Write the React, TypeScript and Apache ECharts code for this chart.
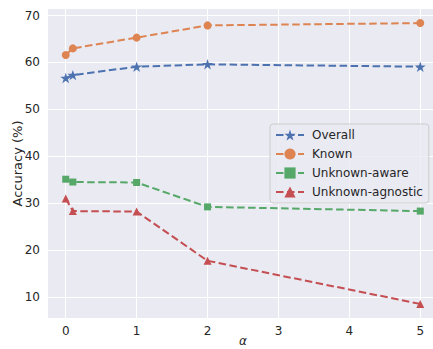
import React, { useEffect, useRef } from "react";
import * as echarts from "echarts";

const alphas = [0, 0.1, 1, 2, 5];
const overall = [56.7, 57.3, 59.1, 59.6, 59.1];
const known = [61.6, 63.0, 65.3, 67.9, 68.4];
const unknownAware = [35.1, 34.5, 34.4, 29.2, 28.3];
const unknownAgnostic = [31.0, 28.3, 28.2, 17.7, 8.5];
const xTicks = [0, 1, 2, 3, 4, 5];
const yTicks = [10, 20, 30, 40, 50, 60, 70];

const STAR = "path://M50,0 L61.2,34.5 L97.6,34.5 L68.2,55.9 L79.4,90.5 L50,69.1 L20.6,90.5 L31.8,55.9 L2.4,34.5 L38.8,34.5 Z";

const FONT = "DejaVu Sans";
const TXT = "#262626";

export default function App() {
  const ref = useRef<HTMLDivElement>(null);
  useEffect(() => {
    const chart = echarts.init(ref.current!, null, { renderer: "svg" });
    const mk = (name: string, ys: number[], color: string, symbol: string, size: number) => ({
      name,
      type: "line",
      data: alphas.map((a, i) => [a, ys[i]]),
      symbol,
      symbolSize: size,
      symbolKeepAspect: true,
      itemStyle: { color },
      lineStyle: { color, width: 2, type: [7.5, 3.5] },
      z: 3,
    });
    chart.setOption({
      animation: false,
      backgroundColor: "#ffffff",
      textStyle: { fontFamily: FONT },
      grid: {
        left: 48,
        top: 9,
        width: 390,
        height: 309,
        show: true,
        backgroundColor: "#EAEAF2",
        borderWidth: 0,
        containLabel: false,
        outerBoundsMode: "none",
      },
      xAxis: {
        type: "value",
        min: -0.25,
        max: 5.25,
        name: "α",
        nameLocation: "middle",
        nameGap: 17,
        nameMoveOverlap: false,
        nameTextStyle: { fontFamily: FONT, fontStyle: "italic", fontSize: 12, color: TXT },
        axisLine: { show: false },
        axisTick: { show: false, customValues: xTicks },
        axisLabel: { customValues: xTicks, fontSize: 12, color: TXT, margin: 7, fontFamily: FONT },
        splitLine: { show: true, lineStyle: { color: "#ffffff", width: 1 } },
      },
      yAxis: {
        type: "value",
        min: 5.5,
        max: 71.4,
        name: "Accuracy (%)",
        nameLocation: "middle",
        nameGap: 24,
        nameMoveOverlap: false,
        nameTextStyle: { fontFamily: FONT, fontSize: 13, color: TXT },
        axisLine: { show: false },
        axisTick: { show: false, customValues: yTicks },
        axisLabel: { customValues: yTicks, fontSize: 12, color: TXT, margin: 8, fontFamily: FONT },
        splitLine: { show: true, lineStyle: { color: "#ffffff", width: 1 } },
      },
      legend: {
        left: 270,
        top: 124,
        orient: "vertical",
        backgroundColor: "rgba(234,234,242,0.8)",
        borderColor: "#cccccc",
        borderWidth: 1,
        borderRadius: 3,
        padding: [4, 6, 4, 5],
        itemWidth: 28,
        itemHeight: 14,
        itemGap: 5,
        textStyle: { fontSize: 12, color: TXT, fontFamily: FONT, padding: [0, 0, 0, 3], lineHeight: 14 },
        data: ["Overall", "Known", "Unknown-aware", "Unknown-agnostic"],
      },
      series: [
        mk("Overall", overall, "#4C72B0", STAR, 11),
        mk("Known", known, "#DD8452", "circle", 8),
        mk("Unknown-aware", unknownAware, "#55A868", "rect", 7),
        mk("Unknown-agnostic", unknownAgnostic, "#C44E52", "triangle", 8),
      ],
    });
    return () => chart.dispose();
  }, []);
  return (
    <div
      ref={ref}
      style={{ position: "absolute", left: 0, top: 0, width: 433, height: 349 }}
    />
  );
}
